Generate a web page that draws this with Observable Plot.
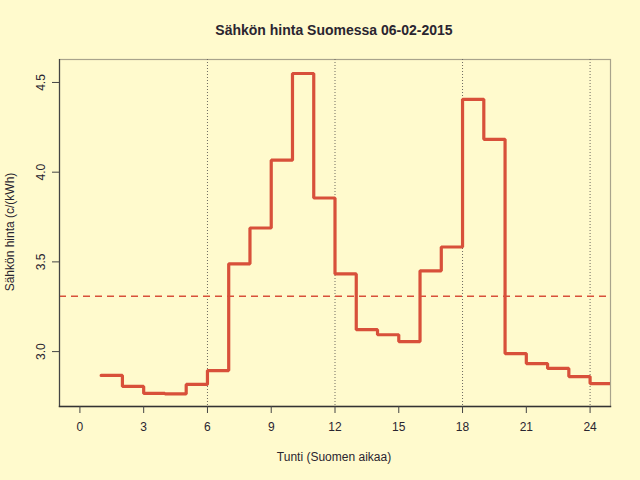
<!DOCTYPE html>
<html>
<head>
<meta charset="utf-8">
<script src="https://cdn.jsdelivr.net/npm/d3@7"></script>
<script src="https://cdn.jsdelivr.net/npm/@observablehq/plot@0.6"></script>
<style>
  html, body { margin: 0; padding: 0; background: #fffacd; }
  #chart { width: 640px; height: 480px; }
</style>
</head>
<body>
<div id="chart"></div>
<script>
const hours = [1,2,3,4,5,6,7,8,9,10,11,12,13,14,15,16,17,18,19,20,21,22,23,24];
const prices = [2.867,2.806,2.767,2.764,2.817,2.894,3.489,3.689,4.067,4.550,3.856,3.433,
                3.122,3.094,3.056,3.450,3.583,4.406,4.183,2.989,2.933,2.906,2.861,2.822];
const xTicks = [0,3,6,9,12,15,18,21,24];
const yTicks = [3.0,3.5,4.0,4.5];
const gridHours = [6,12,18,24];
const title = "Sähkön hinta Suomessa 06-02-2015";
const xLabel = "Tunti (Suomen aikaa)";
const yLabel = "Sähkön hinta (c/(kWh)";

const data = hours.map((h, i) => ({hour: h, price: prices[i]}));
// end point of the last step (hour 24 lasts until 25)
data.push({hour: hours[hours.length - 1] + 1, price: prices[prices.length - 1]});
const meanPrice = d3.mean(prices);

const lineColor = "#d8503a";
const textColor = "#2a2530";

const chart = Plot.plot({
  width: 640,
  height: 480,
  marginLeft: 59,
  marginRight: 30,
  marginTop: 59,
  marginBottom: 74,
  style: {background: "#fffacd", fontFamily: "'Liberation Sans', Arial, sans-serif", fontSize: "12px", color: textColor},
  x: {domain: [-0.96, 24.96]},
  y: {domain: [2.694, 4.628]},
  marks: [
    Plot.frame({stroke: "#a8a38c", strokeWidth: 1.2}),
    Plot.ruleX(gridHours, {stroke: "#6e6a60", strokeDasharray: "1,2", strokeWidth: 1}),
    Plot.ruleY([meanPrice], {stroke: lineColor, strokeWidth: 1.6, strokeDasharray: "7,5"}),
    Plot.line(data, {x: "hour", y: "price", curve: "step-after", stroke: lineColor, strokeWidth: 3.2, clip: true, strokeLinejoin: "miter"}),
    Plot.frame({anchor: "left", stroke: "#444", strokeWidth: 1.2}),
    Plot.frame({anchor: "bottom", stroke: "#333", strokeWidth: 1.4}),
    Plot.axisX({ticks: xTicks, tickSize: 7, tickPadding: 9, tickFormat: d => String(d), fontSize: 12, label: null, stroke: "#444", fill: textColor}),
    Plot.axisY({ticks: yTicks, tickSize: 7, tickPadding: 8, tickFormat: d3.format(".1f"), tickRotate: -90, textAnchor: "middle", fontSize: 12, label: null, stroke: "#444", fill: textColor}),
  ]
});

const svg = d3.select(chart);
svg.append("text")
  .attr("x", 334).attr("y", 35)
  .attr("text-anchor", "middle")
  .attr("font-weight", "bold")
  .attr("font-size", 14)
  .attr("fill", textColor)
  .text(title);
svg.append("text")
  .attr("x", 334).attr("y", 461)
  .attr("text-anchor", "middle")
  .attr("font-size", 12)
  .attr("fill", textColor)
  .text(xLabel);
svg.append("text")
  .attr("transform", "translate(14,232) rotate(-90)")
  .attr("text-anchor", "middle")
  .attr("font-size", 12)
  .attr("fill", textColor)
  .text(yLabel);

document.getElementById("chart").appendChild(chart);
</script>
</body>
</html>
